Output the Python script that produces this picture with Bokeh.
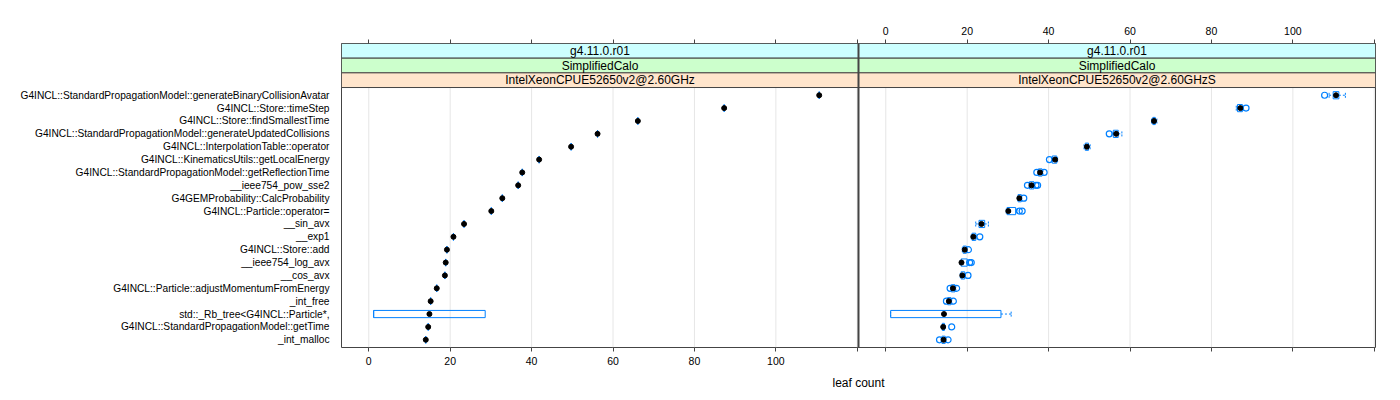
from bokeh.plotting import figure
from bokeh.models import ColumnDataSource, Range1d, LinearAxis, FixedTicker
from bokeh.transform import dodge
from bokeh.core.properties import value
from bokeh.embed import file_html
from bokeh.resources import INLINE

# ---------------- data ----------------
functions = [
    "G4INCL::StandardPropagationModel::generateBinaryCollisionAvatar",
    "G4INCL::Store::timeStep",
    "G4INCL::Store::findSmallestTime",
    "G4INCL::StandardPropagationModel::generateUpdatedCollisions",
    "G4INCL::InterpolationTable::operator",
    "G4INCL::KinematicsUtils::getLocalEnergy",
    "G4INCL::StandardPropagationModel::getReflectionTime",
    "__ieee754_pow_sse2",
    "G4GEMProbability::CalcProbability",
    "G4INCL::Particle::operator=",
    "__sin_avx",
    "__exp1",
    "G4INCL::Store::add",
    "__ieee754_log_avx",
    "__cos_avx",
    "G4INCL::Particle::adjustMomentumFromEnergy",
    "_int_free",
    "std::_Rb_tree<G4INCL::Particle*,",
    "G4INCL::StandardPropagationModel::getTime",
    "_int_malloc",
]

# left panel (IntelXeonCPUE52650v2@2.60GHz)
left_median = [110.65, 87.3, 66.1, 56.2, 49.7, 41.85, 37.7, 36.7, 32.8, 30.1,
               23.4, 20.8, 19.2, 18.9, 18.7, 16.7, 15.2, 14.9, 14.6, 14.0]
left_q1 = [110.65, 87.3, 66.1, 56.2, 49.7, 41.85, 37.7, 36.7, 32.8, 30.1,
           23.4, 20.8, 19.2, 18.9, 18.7, 16.7, 15.2, 1.2, 14.6, 14.0]
left_q3 = [110.65, 87.3, 66.1, 56.2, 49.7, 41.85, 37.7, 36.7, 32.8, 30.1,
           23.4, 20.8, 19.2, 18.9, 18.7, 16.7, 15.2, 28.6, 14.6, 14.0]

# right panel (IntelXeonCPUE52650v2@2.60GHzS)
right_median = [110.6, 87.1, 65.9, 56.6, 49.4, 41.6, 37.9, 35.8, 32.8, 30.1,
                23.5, 21.5, 19.4, 18.6, 18.8, 16.5, 15.5, 14.3, 14.1, 14.2]
right_q1 = [109.9, 86.4, 65.6, 55.9, 49.0, 40.9, 37.5, 35.3, 32.5, 29.8,
            22.9, 21.2, 19.0, 18.5, 18.5, 16.1, 15.2, 1.2, 13.9, 13.8]
right_q3 = [111.3, 87.6, 66.2, 57.1, 49.8, 42.0, 38.4, 36.4, 33.3, 31.9,
            24.3, 22.1, 19.8, 20.0, 19.4, 17.0, 16.0, 28.3, 14.4, 14.6]
right_wlo = [108.9, 86.1, 65.3, 55.5, 48.7, 40.7, 37.4, 35.2, 32.4, 29.6,
             22.1, 21.0, 18.8, 18.3, 18.3, 16.0, 15.1, 1.2, 13.8, 13.6]
right_whi = [112.9, 87.8, 66.6, 58.0, 50.2, 42.2, 38.6, 36.6, 33.4, 32.3,
             25.2, 22.4, 20.0, 20.3, 19.6, 17.2, 16.2, 30.8, 14.5, 14.8]
right_out_row = [0, 1, 3, 5, 6, 6, 7, 7, 7, 8, 9, 9, 11, 12, 13, 13, 14,
                 15, 15, 16, 16, 18, 19, 19]
right_out_val = [107.8, 88.5, 54.9, 40.2, 37.1, 38.9, 34.8, 36.9, 37.3, 33.9,
                 32.8, 33.5, 23.1, 20.3, 20.6, 21.0, 20.2, 15.8, 17.4, 14.9,
                 16.6, 16.2, 13.2, 15.3]

strip_left = ["g4.11.0.r01", "SimplifiedCalo", "IntelXeonCPUE52650v2@2.60GHz"]
strip_right = ["g4.11.0.r01", "SimplifiedCalo", "IntelXeonCPUE52650v2@2.60GHzS"]
strip_colors = ["#CCFFFF", "#CCFFCC", "#FFE5CC"]

x_ticks = [0, 20, 40, 60, 80, 100, 120]
x_tick_labels = ["0", "20", "40", "60", "80", "100", ""]
x_label = "leaf count"

# ---------------- layout constants ----------------
FONT = "Liberation Sans"
BLUE = "#0080FF"
LINE = "#444444"
N = len(functions)
XLO, XHI = -6.7, 120.3
OFF = 127  # panel width in data units (right panel offset)
Y_LO, Y_HI = 0.4, N + 0.6
STRIP_H = 1.14
Y_TOP = Y_HI + 3 * STRIP_H
BOX_H = 0.28
CAP_H = 0.2

ys = [N - i for i in range(N)]

p = figure(width=1400, height=400,
           x_range=Range1d(XLO, XLO + 2 * OFF), y_range=Range1d(Y_LO, Y_TOP),
           output_backend="svg", toolbar_location=None,
           min_border_left=341, min_border_right=25,
           min_border_top=43, min_border_bottom=53)
p.grid.visible = False
p.outline_line_color = LINE
p.outline_line_width = 1
p.background_fill_color = "white"
p.border_fill_color = "white"

# ---------------- grid lines ----------------
grid_src = ColumnDataSource(dict(x=x_ticks, y0=[Y_LO] * len(x_ticks),
                                 y1=[Y_HI] * len(x_ticks)))
p.segment(x0="x", y0="y0", x1="x", y1="y1", source=grid_src,
          line_color="#E6E6E6", line_width=1)
p.segment(x0=dodge("x", OFF), y0="y0", x1=dodge("x", OFF), y1="y1",
          source=grid_src, line_color="#E6E6E6", line_width=1)

# ---------------- strips ----------------
s_left, s_right, s_bot, s_top, s_col, s_txt, s_xc, s_yc = [], [], [], [], [], [], [], []
for pi, labels in enumerate([strip_left, strip_right]):
    for k, lab in enumerate(labels):
        top = Y_TOP - k * STRIP_H
        bot = top - STRIP_H
        s_left.append(XLO + pi * OFF)
        s_right.append(XHI + pi * OFF)
        s_top.append(top)
        s_bot.append(bot)
        s_col.append(strip_colors[k])
        s_txt.append(lab)
        s_xc.append((XLO + XHI) / 2 + pi * OFF)
        s_yc.append((top + bot) / 2)
strip_src = ColumnDataSource(dict(left=s_left, right=s_right, top=s_top, bottom=s_bot,
                                  color=s_col, text=s_txt, xc=s_xc, yc=s_yc))
p.quad(left="left", right="right", top="top", bottom="bottom", fill_color="color",
       line_color=LINE, line_width=1, source=strip_src)
p.text(x="xc", y="yc", text="text", source=strip_src, text_align="center",
       text_baseline="middle", text_font=value(FONT), text_font_size="12px",
       text_color="black")

# ---------------- left panel ----------------
left_src = ColumnDataSource(dict(y=ys, med=left_median, q1=left_q1, q3=left_q3,
                                 top=[y + BOX_H for y in ys],
                                 bot=[y - BOX_H for y in ys]))
p.quad(left="q1", right="q3", top="top", bottom="bot", source=left_src,
       fill_color=None, line_color=BLUE, line_width=1)
p.segment(x0="q1", y0="bot", x1="q1", y1="top", source=left_src,
          line_color=BLUE, line_width=1)
p.scatter(x="med", y="y", source=left_src, marker="circle", size=5,
          fill_color="black", line_color="black")

# ---------------- right panel ----------------
right_src = ColumnDataSource(dict(y=ys, med=right_median, q1=right_q1, q3=right_q3,
                                  wlo=right_wlo, whi=right_whi,
                                  top=[y + BOX_H for y in ys],
                                  bot=[y - BOX_H for y in ys],
                                  ctop=[y + CAP_H for y in ys],
                                  cbot=[y - CAP_H for y in ys]))
for a, b in (("wlo", "q1"), ("q3", "whi")):
    p.segment(x0=dodge(a, OFF), y0="y", x1=dodge(b, OFF), y1="y", source=right_src,
              line_color=BLUE, line_width=1, line_dash="2 2")
for c in ("wlo", "whi"):
    p.segment(x0=dodge(c, OFF), y0="cbot", x1=dodge(c, OFF), y1="ctop",
              source=right_src, line_color=BLUE, line_width=1, line_dash="2 1")
p.quad(left=dodge("q1", OFF), right=dodge("q3", OFF), top="top", bottom="bot",
       source=right_src, fill_color=None, line_color=BLUE, line_width=1)
out_src = ColumnDataSource(dict(y=[ys[r] for r in right_out_row], val=right_out_val))
p.scatter(x=dodge("val", OFF), y="y", source=out_src, marker="circle", size=6,
          fill_color=None, line_color=BLUE, line_width=1.2)
p.scatter(x=dodge("med", OFF), y="y", source=right_src, marker="circle", size=5,
          fill_color="black", line_color="black")

# panel divider
p.segment(x0=[XHI], y0=[Y_LO], x1=[XHI], y1=[Y_TOP], line_color=LINE, line_width=2)

# ---------------- axes ----------------
bottom_ticks = x_ticks + [t + OFF for t in x_ticks]
bottom_over = {t: l for t, l in zip(x_ticks, x_tick_labels)}
bottom_over.update({t + OFF: "" for t in x_ticks})
top_over = {t: "" for t in x_ticks}
top_over.update({t + OFF: l for t, l in zip(x_ticks, x_tick_labels)})


def style_x(ax):
    ax.axis_line_color = None
    ax.major_tick_line_color = LINE
    ax.major_tick_out = 4
    ax.major_tick_in = 0
    ax.minor_tick_line_color = None
    ax.major_label_text_font = FONT
    ax.major_label_text_font_size = "10.5px"
    ax.major_label_text_color = "black"
    ax.major_label_standoff = 5


xb = p.xaxis[0]
xb.ticker = FixedTicker(ticks=bottom_ticks)
xb.major_label_overrides = bottom_over
style_x(xb)
xb.axis_label = x_label
xb.axis_label_text_font = FONT
xb.axis_label_text_font_size = "12px"
xb.axis_label_text_font_style = "normal"
xb.axis_label_text_color = "black"
xb.axis_label_standoff = 8

xt = LinearAxis(ticker=FixedTicker(ticks=bottom_ticks), major_label_overrides=top_over)
style_x(xt)
p.add_layout(xt, "above")

ya = p.yaxis[0]
ya.ticker = FixedTicker(ticks=ys)
ya.major_label_overrides = {y: f for y, f in zip(ys, functions)}
ya.axis_line_color = None
ya.major_tick_line_color = None
ya.minor_tick_line_color = None
ya.major_label_text_font = FONT
ya.major_label_text_font_size = "10.2px"
ya.major_label_text_color = "black"
ya.major_label_standoff = 6

open("out.html", "w").write(file_html(p, INLINE))
